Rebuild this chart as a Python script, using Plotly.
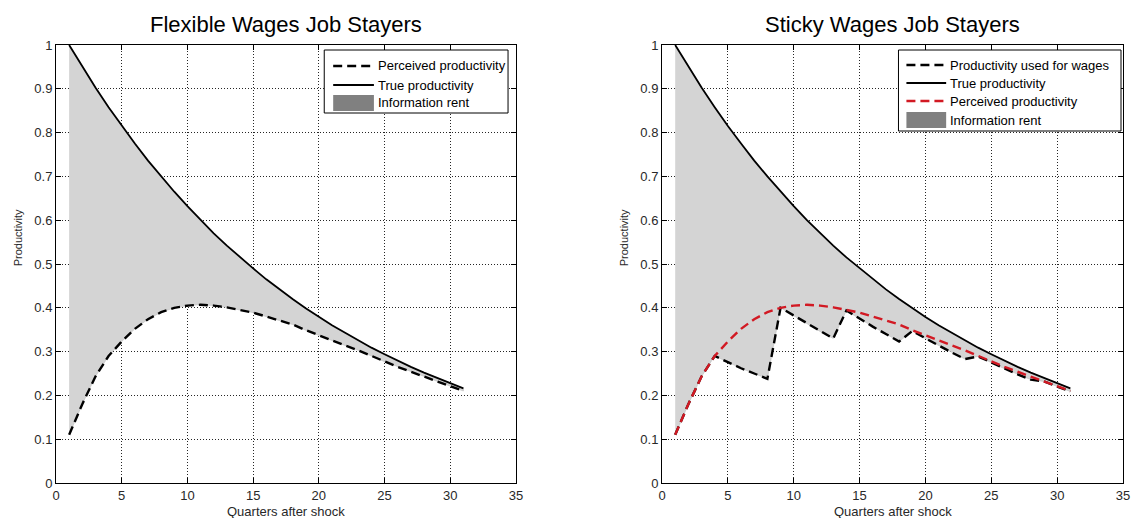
import plotly.graph_objects as go

# ---- data -------------------------------------------------------------
quarters = list(range(1, 32))

true_prod = [1.000, 0.950, 0.903, 0.858, 0.815, 0.775, 0.736, 0.700, 0.665, 0.632,
             0.600, 0.570, 0.542, 0.515, 0.490, 0.465, 0.442, 0.420, 0.399, 0.379,
             0.360, 0.343, 0.326, 0.309, 0.294, 0.279, 0.265, 0.252, 0.240, 0.228,
             0.216]

perceived_prod = [0.110, 0.180, 0.243, 0.290, 0.323, 0.352, 0.374, 0.390, 0.400, 0.405,
                  0.407, 0.405, 0.401, 0.395, 0.389, 0.380, 0.371, 0.362, 0.349, 0.337,
                  0.325, 0.314, 0.303, 0.290, 0.277, 0.265, 0.254, 0.243, 0.232, 0.221,
                  0.210]

wage_prod = [0.110, 0.180, 0.243, 0.290, 0.276, 0.262, 0.250, 0.238, 0.400, 0.382,
             0.364, 0.346, 0.330, 0.394, 0.375, 0.357, 0.340, 0.323, 0.347, 0.330,
             0.314, 0.298, 0.283, 0.289, 0.275, 0.261, 0.248, 0.236, 0.232, 0.220,
             0.209]

x_ticks = [0, 5, 10, 15, 20, 25, 30, 35]
y_ticks = [0, 0.1, 0.2, 0.3, 0.4, 0.5, 0.6, 0.7, 0.8, 0.9, 1]
y_tick_text = ["0", "0.1", "0.2", "0.3", "0.4", "0.5", "0.6", "0.7", "0.8", "0.9", "1"]

# ---- page geometry ------------------------------------------------------
W, H = 1141, 518
ML, MR, MT, MB = 56, 11, 45, 35
PW, PH = W - ML - MR, H - MT - MB


def px(x):
    return (x - ML) / PW


def py(y):
    return 1 - (y - MT) / PH


FONT = "Liberation Sans, Arial, Helvetica, sans-serif"
FILL = "rgb(212,212,212)"
SWATCH = "rgb(128,128,128)"
RED = "rgb(210,25,35)"
DASH = "9px,5px"

fig = go.Figure()

# ---- left panel: flexible wages ----------------------------------------
fig.add_trace(go.Scatter(
    x=quarters + quarters[::-1], y=true_prod + perceived_prod[::-1],
    fill="toself", fillcolor=FILL, line=dict(width=0.6, color="rgb(190,190,190)"),
    mode="lines", hoverinfo="skip", xaxis="x", yaxis="y"))
fig.add_trace(go.Scatter(
    x=quarters, y=true_prod, mode="lines",
    line=dict(color="black", width=1.8), xaxis="x", yaxis="y"))
fig.add_trace(go.Scatter(
    x=quarters, y=perceived_prod, mode="lines",
    line=dict(color="black", width=2.4, dash=DASH), xaxis="x", yaxis="y"))

# ---- right panel: sticky wages -----------------------------------------
fig.add_trace(go.Scatter(
    x=quarters + quarters[::-1], y=true_prod + wage_prod[::-1],
    fill="toself", fillcolor=FILL, line=dict(width=0.6, color="rgb(190,190,190)"),
    mode="lines", hoverinfo="skip", xaxis="x2", yaxis="y2"))
fig.add_trace(go.Scatter(
    x=quarters, y=true_prod, mode="lines",
    line=dict(color="black", width=1.8), xaxis="x2", yaxis="y2"))
fig.add_trace(go.Scatter(
    x=quarters, y=wage_prod, mode="lines",
    line=dict(color="black", width=2.4, dash=DASH), xaxis="x2", yaxis="y2"))
fig.add_trace(go.Scatter(
    x=quarters, y=perceived_prod, mode="lines",
    line=dict(color=RED, width=2.4, dash=DASH), xaxis="x2", yaxis="y2"))

# ---- axes ----------------------------------------------------------------
axis_common = dict(
    showline=True, linecolor="black", linewidth=1, mirror="ticks",
    ticks="inside", ticklen=5, tickcolor="black", tickwidth=1,
    showgrid=True, gridcolor="rgba(0,0,0,0.85)", gridwidth=1, griddash="1px,2px",
    zeroline=False, tickfont=dict(family=FONT, size=13, color="rgb(40,40,40)"),
)
x_common = dict(axis_common, range=[0, 35], tickvals=x_ticks, ticktext=[str(v) for v in x_ticks])
y_common = dict(axis_common, range=[0, 1], tickvals=y_ticks, ticktext=y_tick_text)

left_end = px(519)
right_start = px(666)

fig.update_layout(
    width=W, height=H,
    margin=dict(l=ML, r=MR, t=MT, b=MB, pad=0),
    paper_bgcolor="white", plot_bgcolor="white",
    showlegend=False,
    xaxis=dict(x_common, domain=[0, left_end], anchor="y"),
    yaxis=dict(y_common, domain=[0, 1], anchor="x"),
    xaxis2=dict(x_common, domain=[right_start, 1], anchor="y2"),
    yaxis2=dict(y_common, domain=[0, 1], anchor="x2"),
)

annotations = []
shapes = []

# titles and axis labels
panels = [
    ("Flexible Wages Job Stayers", 56, 519),
    ("Sticky Wages Job Stayers", 666, 1130),
]
for title, x0, x1 in panels:
    cx = (x0 + x1) / 2
    annotations.append(dict(text=title, x=px(cx), y=py(24), xref="paper", yref="paper",
                            xanchor="center", yanchor="middle", showarrow=False,
                            font=dict(family=FONT, size=22, color="black")))
    annotations.append(dict(text="Quarters after shock", x=px(cx), y=py(511),
                            xref="paper", yref="paper", xanchor="center", yanchor="middle",
                            showarrow=False, font=dict(family=FONT, size=13, color="rgb(40,40,40)")))
    annotations.append(dict(text="Productivity", x=px(x0 - 38), y=py(238),
                            xref="paper", yref="paper", xanchor="center", yanchor="middle",
                            textangle=-90, showarrow=False,
                            font=dict(family=FONT, size=11, color="rgb(40,40,40)")))


def legend_box(x0, y0, x1, y1, rows, row_ys, sample_x0, sample_x1, text_x):
    shapes.append(dict(type="rect", xref="paper", yref="paper",
                       x0=px(x0), x1=px(x1), y0=py(y0), y1=py(y1),
                       line=dict(color="black", width=1), fillcolor="white", layer="above"))
    for (label, kind, color), ry in zip(rows, row_ys):
        if kind == "rect":
            shapes.append(dict(type="rect", xref="paper", yref="paper",
                               x0=px(sample_x0), x1=px(sample_x1), y0=py(ry - 8), y1=py(ry + 8),
                               line=dict(width=0), fillcolor=color, layer="above"))
        else:
            dash = "solid" if kind == "solid" else DASH
            shapes.append(dict(type="line", xref="paper", yref="paper",
                               x0=px(sample_x0), x1=px(sample_x1), y0=py(ry), y1=py(ry),
                               line=dict(color=color, width=2.4 if kind != "solid" else 1.8,
                                         dash=dash), layer="above"))
        annotations.append(dict(text=label, x=px(text_x), y=py(ry), xref="paper", yref="paper",
                                xanchor="left", yanchor="middle", showarrow=False,
                                font=dict(family=FONT, size=13, color="black")))


legend_box(326, 50, 511, 113,
           [("Perceived productivity", "dash", "black"),
            ("True productivity", "solid", "black"),
            ("Information rent", "rect", SWATCH)],
           [66, 85, 103], 335, 376, 378)

legend_box(904, 50, 1128, 131,
           [("Productivity used for wages", "dash", "black"),
            ("True productivity", "solid", "black"),
            ("Perceived productivity", "dash", RED),
            ("Information rent", "rect", SWATCH)],
           [65, 83, 101, 120], 912, 952, 954)

fig.update_layout(annotations=annotations, shapes=shapes)

fig.write_html("out.html")
